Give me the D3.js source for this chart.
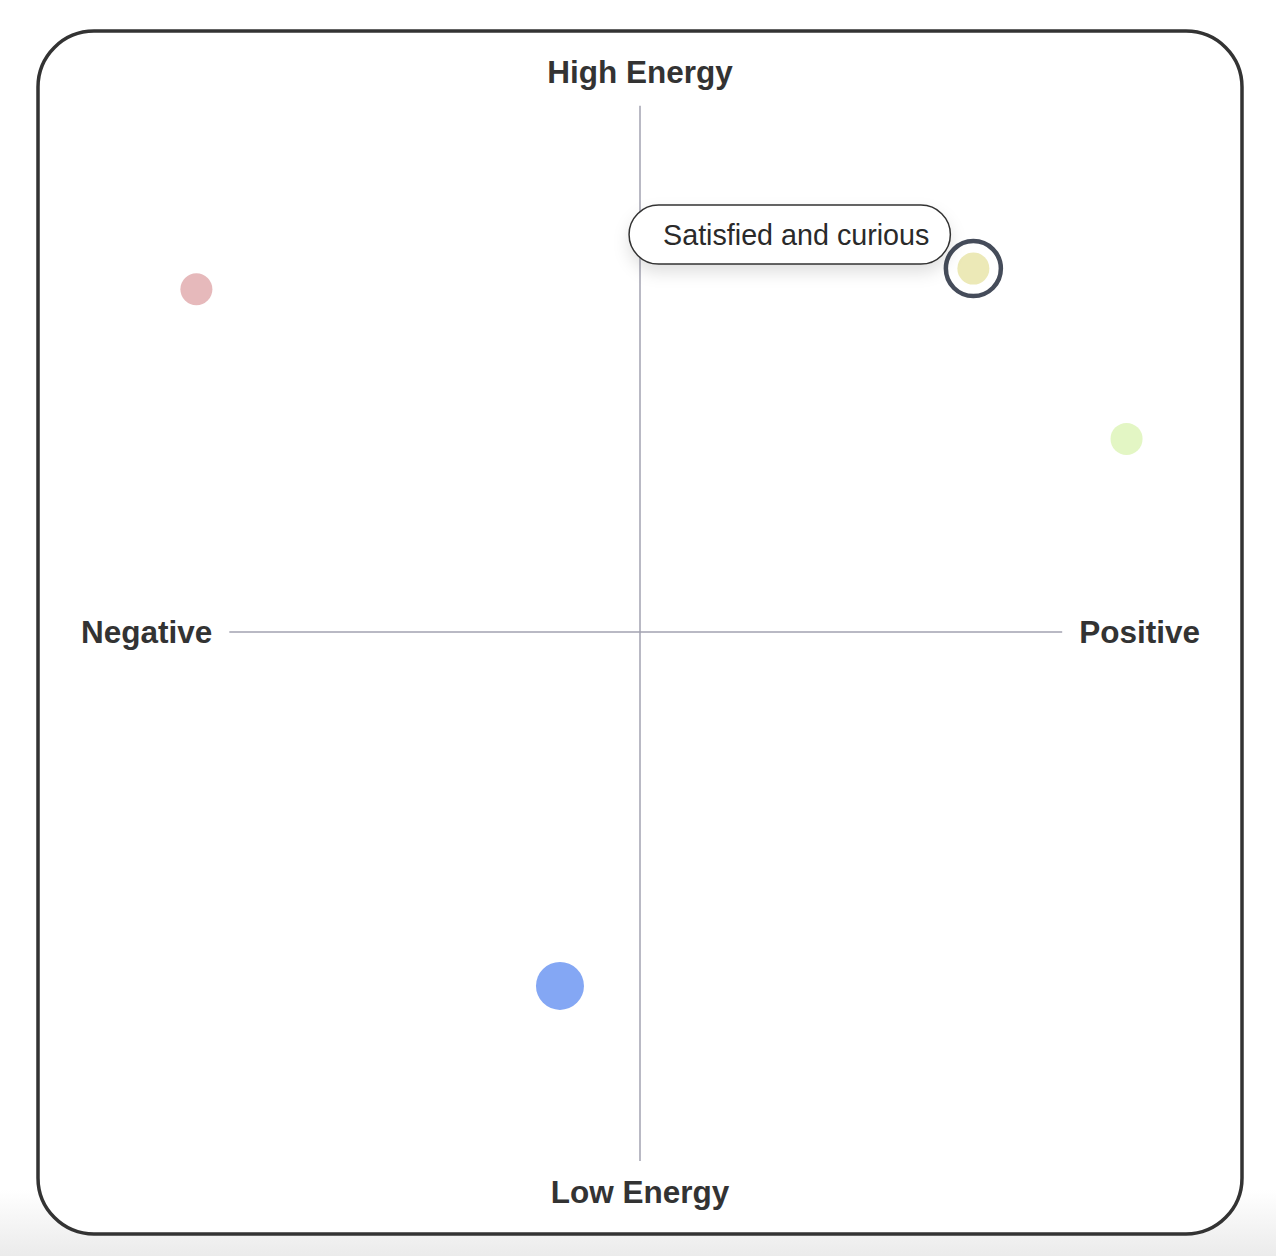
<!DOCTYPE html>
<html>
<head>
<meta charset="utf-8">
<script src="https://cdn.jsdelivr.net/npm/d3@7"></script>
<style>
  body { margin: 0; background: #fff; font-family: "Liberation Sans", Arial, Helvetica, sans-serif; }
  svg { display: block; }
</style>
</head>
<body>
<svg width="1276" height="1256"></svg>
<script>
// mood points: valence (x) and energy (y), -1..1
var moods = ['Angry and tense', 'Satisfied and curious', 'Excited and happy', 'Sad and tired'];
var valence = [-0.837, 0.629, 0.918, -0.151];
var energy = [0.648, 0.687, 0.365, -0.669];
var weight = [1, 1, 1, 2];
var selected = 'Satisfied and curious';

var axisLabels = { top: 'High Energy', bottom: 'Low Energy', left: 'Negative', right: 'Positive' };

var data = moods.map(function(m, i) {
	return { mood: m, v: valence[i], e: energy[i], w: weight[i] };
});

var W = 1276, H = 1256;
var svg = d3.select('svg');

var x = d3.scaleLinear().domain([-1, 1]).range([110, 1170]);
var y = d3.scaleLinear().domain([-1, 1]).range([1161, 103]);
var r = d3.scaleLinear().domain([1, 2]).range([16, 24]);
var color = d3.scaleOrdinal()
	.domain(moods)
	.range(['#e6b9bb', '#ece9b7', '#e3f6c4', '#84a7f4']);

var defs = svg.append('defs');
var grad = defs.append('linearGradient').attr('id', 'pageFade')
	.attr('x1', 0).attr('y1', 0).attr('x2', 0).attr('y2', 1);
grad.append('stop').attr('offset', '0%').attr('stop-color', '#fff');
grad.append('stop').attr('offset', '100%').attr('stop-color', '#ebebeb');

var shadow = defs.append('filter').attr('id', 'tipShadow')
	.attr('x', '-20%').attr('y', '-40%').attr('width', '140%').attr('height', '200%');
shadow.append('feDropShadow')
	.attr('dx', 0).attr('dy', 8).attr('stdDeviation', 8)
	.attr('flood-color', '#000').attr('flood-opacity', 0.12);

// faint page shading at the bottom edge
svg.append('rect')
	.attr('x', 0).attr('y', 1190).attr('width', W).attr('height', H - 1190)
	.attr('fill', 'url(#pageFade)');

// card
svg.append('rect')
	.attr('x', 38).attr('y', 31)
	.attr('width', 1204).attr('height', 1203)
	.attr('rx', 56).attr('ry', 56)
	.attr('fill', '#fff')
	.attr('stroke', '#333')
	.attr('stroke-width', 3.5);

var labelStyle = function(sel) {
	sel.attr('font-size', 31.5)
		.attr('font-weight', 'bold')
		.attr('fill', '#333');
};

var top = svg.append('text').text(axisLabels.top)
	.attr('x', x(0)).attr('y', 83).attr('text-anchor', 'middle').call(labelStyle);
var bottom = svg.append('text').text(axisLabels.bottom)
	.attr('x', x(0)).attr('y', 1203).attr('text-anchor', 'middle').call(labelStyle);
var left = svg.append('text').text(axisLabels.left)
	.attr('x', 81).attr('y', y(0) + 11).attr('text-anchor', 'start').call(labelStyle);
var right = svg.append('text').text(axisLabels.right)
	.attr('x', 1200).attr('y', y(0) + 11).attr('text-anchor', 'end').call(labelStyle);

// axes: horizontal one stops short of the side labels
var lb = left.node().getBBox();
var rb = right.node().getBBox();
var gap = 17;

svg.append('line')
	.attr('x1', x(0)).attr('x2', x(0))
	.attr('y1', y(0.995)).attr('y2', y(-1))
	.attr('stroke', '#a2a2b0').attr('stroke-width', 1.5);

svg.append('line')
	.attr('x1', lb.x + lb.width + gap).attr('x2', rb.x - gap)
	.attr('y1', y(0)).attr('y2', y(0))
	.attr('stroke', '#a2a2b0').attr('stroke-width', 1.5);

// points
svg.selectAll('circle.mood')
	.data(data)
	.enter()
	.append('circle')
	.attr('class', 'mood')
	.attr('cx', function(d) { return x(d.v); })
	.attr('cy', function(d) { return y(d.e); })
	.attr('r', function(d) { return r(d.w); })
	.attr('fill', function(d) { return color(d.mood); });

// selected ring + tooltip
var sel = data.filter(function(d) { return d.mood === selected; })[0];
var sx = x(sel.v), sy = y(sel.e);

svg.append('circle')
	.attr('cx', sx).attr('cy', sy)
	.attr('r', r(sel.w) + 11.5)
	.attr('fill', 'none')
	.attr('stroke', '#454c5a')
	.attr('stroke-width', 4.5);

var tip = svg.append('g');
var tipText = tip.append('text')
	.text(sel.mood)
	.attr('font-size', 28.7)
	.attr('fill', '#2a2a2a');
var tb = tipText.node().getBBox();
var boxH = 59, padL = 34, padR = 21;
var boxW = tb.width + padL + padR;
var boxX = sx - 23 - boxW;
var boxY = sy - 34 - boxH / 2;

tip.insert('rect', 'text')
	.attr('x', boxX).attr('y', boxY)
	.attr('width', boxW).attr('height', boxH)
	.attr('rx', boxH / 2).attr('ry', boxH / 2)
	.attr('fill', '#fff')
	.attr('stroke', '#333')
	.attr('stroke-width', 1.5)
	.attr('filter', 'url(#tipShadow)');

tipText
	.attr('x', boxX + padL)
	.attr('y', boxY + boxH / 2 + 10);
</script>
</body>
</html>
